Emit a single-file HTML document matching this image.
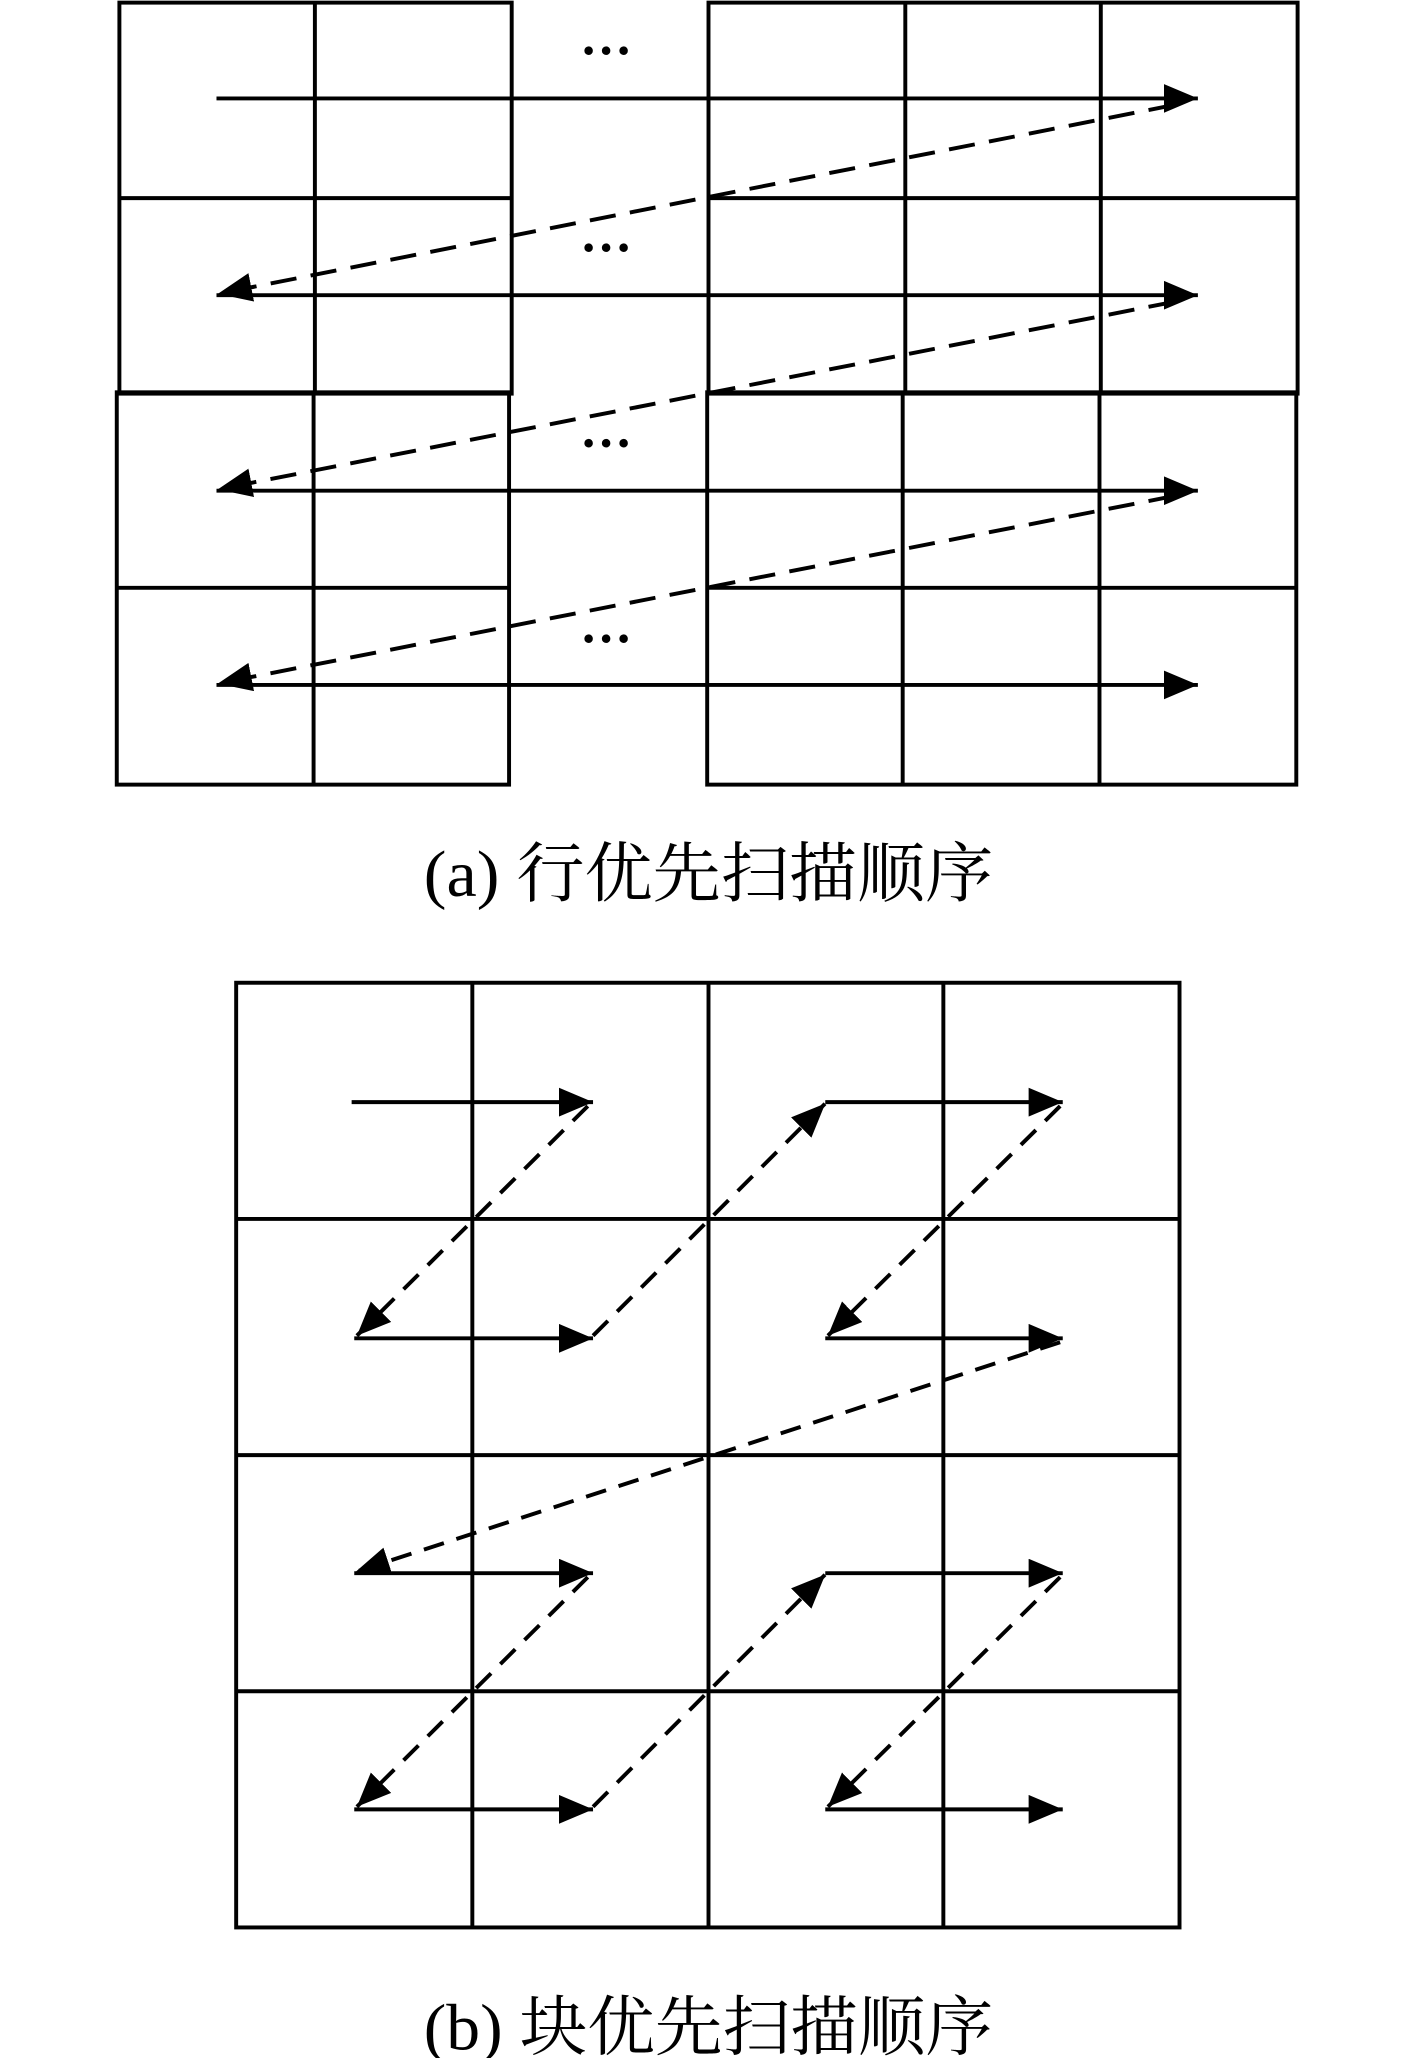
<!DOCTYPE html>
<html><head><meta charset="utf-8"><style>
html,body{margin:0;padding:0;background:#fff;}
svg{display:block;}
</style></head><body>
<svg width="1417" height="2058" viewBox="0 0 1080 1568.5" preserveAspectRatio="none" xmlns="http://www.w3.org/2000/svg">
<defs>
<marker id="ah" markerUnits="userSpaceOnUse" markerWidth="28" markerHeight="22" refX="26" refY="11" orient="auto">
<path d="M0,0 L26,11 L0,22 z" fill="#000"/>
</marker>
</defs>
<g stroke="#000" stroke-width="3" fill="none">
<rect x="91" y="2" width="299" height="298"/>
<line x1="240" y1="2" x2="240" y2="300"/>
<line x1="91" y1="151" x2="390" y2="151"/>
<rect x="540" y="2" width="449" height="298"/>
<line x1="690" y1="2" x2="690" y2="300"/>
<line x1="839" y1="2" x2="839" y2="300"/>
<line x1="540" y1="151" x2="989" y2="151"/>
<rect x="89" y="299" width="299" height="299"/>
<line x1="239" y1="299" x2="239" y2="598"/>
<line x1="89" y1="448" x2="388" y2="448"/>
<rect x="539" y="299" width="449" height="299"/>
<line x1="688" y1="299" x2="688" y2="598"/>
<line x1="838" y1="299" x2="838" y2="598"/>
<line x1="539" y1="448" x2="988" y2="448"/>
</g>
<g stroke="#000" stroke-width="3" fill="none">
<line x1="165" y1="75" x2="913" y2="75" marker-end="url(#ah)"/>
<line x1="165" y1="225" x2="913" y2="225" marker-end="url(#ah)"/>
<line x1="165" y1="374" x2="913" y2="374" marker-end="url(#ah)"/>
<line x1="165" y1="522" x2="913" y2="522" marker-end="url(#ah)"/>
</g>
<g stroke="#000" stroke-width="3" fill="none" stroke-dasharray="20,11">
<line x1="895" y1="80" x2="166" y2="224" marker-end="url(#ah)"/>
<line x1="895" y1="230" x2="166" y2="373" marker-end="url(#ah)"/>
<line x1="895" y1="378" x2="166" y2="521" marker-end="url(#ah)"/>
</g>
<g font-family="Liberation Serif, serif" font-size="40" font-weight="bold" text-anchor="middle" fill="#000">
<text x="462" y="52">···</text>
<text x="462" y="202">···</text>
<text x="462" y="351">···</text>
<text x="462" y="500">···</text>
</g>
<text x="323" y="683" font-family="Liberation Serif, 'Noto Serif CJK SC', serif" font-size="50" textLength="434" lengthAdjust="spacingAndGlyphs" fill="#000">(a) 行优先扫描顺序</text>
<g stroke="#000" stroke-width="3" fill="none">
<rect x="180" y="749" width="719" height="720"/>
<line x1="360" y1="749" x2="360" y2="1469"/>
<line x1="540" y1="749" x2="540" y2="1469"/>
<line x1="719" y1="749" x2="719" y2="1469"/>
<line x1="180" y1="929" x2="899" y2="929"/>
<line x1="180" y1="1109" x2="899" y2="1109"/>
<line x1="180" y1="1289" x2="899" y2="1289"/>
</g>
<g stroke="#000" stroke-width="3" fill="none">
<line x1="268" y1="840" x2="452" y2="840" marker-end="url(#ah)"/>
<line x1="629" y1="840" x2="810" y2="840" marker-end="url(#ah)"/>
<line x1="270" y1="1020" x2="452" y2="1020" marker-end="url(#ah)"/>
<line x1="629" y1="1020" x2="810" y2="1020" marker-end="url(#ah)"/>
<line x1="270" y1="1199" x2="452" y2="1199" marker-end="url(#ah)"/>
<line x1="629" y1="1199" x2="810" y2="1199" marker-end="url(#ah)"/>
<line x1="270" y1="1379" x2="452" y2="1379" marker-end="url(#ah)"/>
<line x1="629" y1="1379" x2="810" y2="1379" marker-end="url(#ah)"/>
</g>
<g stroke="#000" stroke-width="3" fill="none" stroke-dasharray="16,10">
<line x1="448" y1="843" x2="272" y2="1018" marker-end="url(#ah)"/>
<line x1="452" y1="1018" x2="629" y2="841" marker-end="url(#ah)"/>
<line x1="808" y1="843" x2="631" y2="1018" marker-end="url(#ah)"/>
<line x1="808" y1="1023" x2="271" y2="1198" marker-end="url(#ah)"/>
<line x1="448" y1="1202" x2="272" y2="1377" marker-end="url(#ah)"/>
<line x1="452" y1="1377" x2="629" y2="1200" marker-end="url(#ah)"/>
<line x1="808" y1="1202" x2="631" y2="1377" marker-end="url(#ah)"/>
</g>
<text x="323" y="1562" font-family="Liberation Serif, 'Noto Serif CJK SC', serif" font-size="50" textLength="434" lengthAdjust="spacingAndGlyphs" fill="#000">(b) 块优先扫描顺序</text>
</svg>
</body></html>
